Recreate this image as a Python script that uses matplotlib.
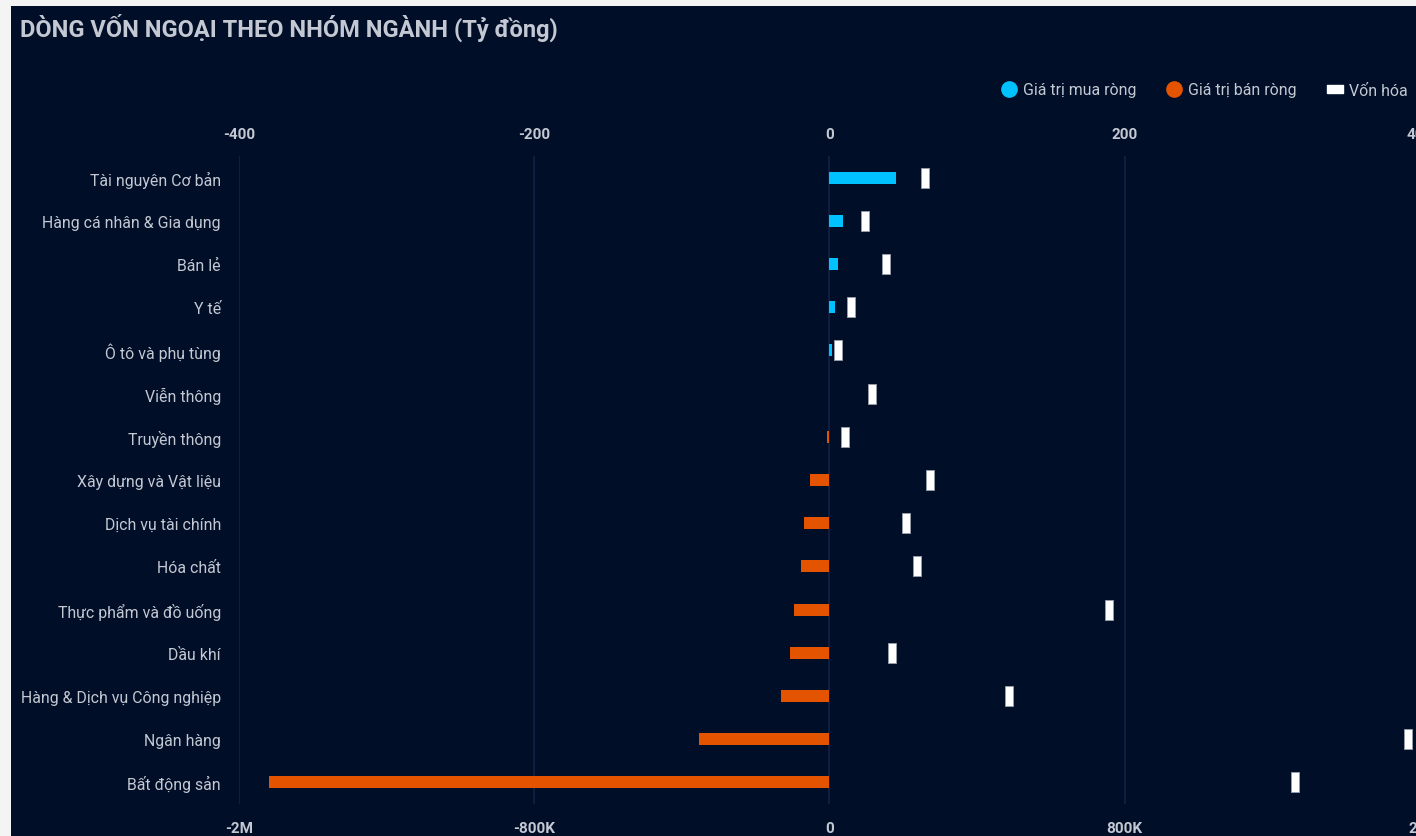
import matplotlib.pyplot as plt
from matplotlib.patches import Rectangle
from matplotlib.lines import Line2D

# Data
nganh = ["Tài nguyên Cơ bản", "Hàng cá nhân & Gia dụng", "Bán lẻ", "Y tế",
         "Ô tô và phụ tùng", "Viễn thông", "Truyền thông", "Xây dựng và Vật liệu",
         "Dịch vụ tài chính", "Hóa chất", "Thực phẩm và đồ uống", "Dầu khí",
         "Hàng & Dịch vụ Công nghiệp", "Ngân hàng", "Bất động sản"]
gia_tri_rong = [45.3, 9, 6, 4, 2, 0, -2, -13.5, -17, -19, -24, -27, -33, -88.7, -380]
von_hoa = [259e3, 95e3, 154e3, 59e3, 24e3, 116e3, 43e3, 273e3, 208e3, 238e3,
           757e3, 168e3, 486e3, 1568e3, 1262e3]

top_ticks = [-400, -200, 0, 200, 400]
bottom_ticks = [-1.6e6, -0.8e6, 0, 0.8e6, 1.6e6]
bottom_labels = ["-2M", "-800K", "0", "800K", "2M"]

# Colours
bg = "#010e28"
frame = "#f4f4f5"
grid_c = "#112145"
text_c = "#c3c8d2"
cyan = "#00c2ff"
orange = "#e35300"

plt.rcParams['font.family'] = ['Roboto', 'DejaVu Sans']

W, H = 1416, 837
fig = plt.figure(figsize=(W / 100, H / 100), dpi=100)
fig.patch.set_facecolor(frame)
fig.patches.append(Rectangle((11 / W, 0), 1, 1 - 7 / H, transform=fig.transFigure,
                             facecolor=bg, edgecolor="none", zorder=-10))

# axes spans 239..1420 px horizontally, 157..805 px vertically
left, right, top, bottom = 239, 1420, 157, 805
ax = fig.add_axes([left / W, 1 - bottom / H, (right - left) / W, (bottom - top) / H])
ax.set_facecolor("none")
ax2 = ax.twiny()
ax2.set_facecolor("none")

y = list(range(len(nganh)))
colors = [cyan if v > 0 else orange for v in gia_tri_rong]
ax.barh(y, gia_tri_rong, height=0.28, color=colors, zorder=3)
ax.set_xlim(-400, 400)
ax.set_ylim(len(nganh) - 0.5, -0.5)
ax.set_yticks(y)
ax.set_yticklabels(nganh)
ax.xaxis.tick_top()
ax.set_xticks(top_ticks)
ax.set_xticklabels([str(t) for t in top_ticks])
ax.tick_params(axis='x', length=0, pad=11, labelsize=11, colors=text_c)
ax.tick_params(axis='y', length=0, pad=13, labelsize=11.4, colors=text_c)
for lab in ax.get_xticklabels():
    lab.set_fontweight('bold')
ax.grid(axis='x', color=grid_c, linewidth=1.2, zorder=0)
for s in ax.spines.values():
    s.set_visible(False)

# second x axis for market cap, labels at the bottom
ax2.set_xlim(-1.6e6, 1.6e6)
ax2.xaxis.tick_bottom()
ax2.set_xticks(bottom_ticks)
ax2.set_xticklabels(bottom_labels)
ax2.tick_params(axis='x', length=0, pad=12, labelsize=11, colors=text_c)
for lab in ax2.get_xticklabels():
    lab.set_fontweight('bold')
for s in ax2.spines.values():
    s.set_visible(False)
bar_marker = [(-0.35, -1), (0.35, -1), (0.35, 1), (-0.35, 1), (-0.35, -1)]
ax2.plot(von_hoa, y, linestyle='none', marker=bar_marker, markersize=14.5,
         markerfacecolor='white', markeredgecolor='#9aa0aa', markeredgewidth=0.6,
         zorder=4, clip_on=False)

# title
fig.text(20 / W, 1 - 28 / H, "DÒNG VỐN NGOẠI THEO NHÓM NGÀNH (Tỷ đồng)",
         color=text_c, fontsize=17, fontweight='bold', va='center', ha='left')

# legend
handles = [
    Line2D([], [], linestyle='none', marker='o', markersize=11, color=cyan),
    Line2D([], [], linestyle='none', marker='o', markersize=11, color=orange),
    Line2D([], [], linestyle='none', marker=[(-1, -0.55), (1, -0.55), (1, 0.55), (-1, 0.55), (-1, -0.55)],
           markersize=11, markerfacecolor='white', markeredgecolor='white'),
]
leg = fig.legend(handles, ["Giá trị mua ròng", "Giá trị bán ròng", "Vốn hóa"],
                 loc='center right', bbox_to_anchor=(1422 / W, 1 - 91 / H), ncol=3,
                 frameon=False, fontsize=11.4, handletextpad=0.3, columnspacing=1.8,
                 handlelength=1.2, labelcolor=text_c)

fig.savefig("out.png", dpi=100, facecolor=fig.get_facecolor())
